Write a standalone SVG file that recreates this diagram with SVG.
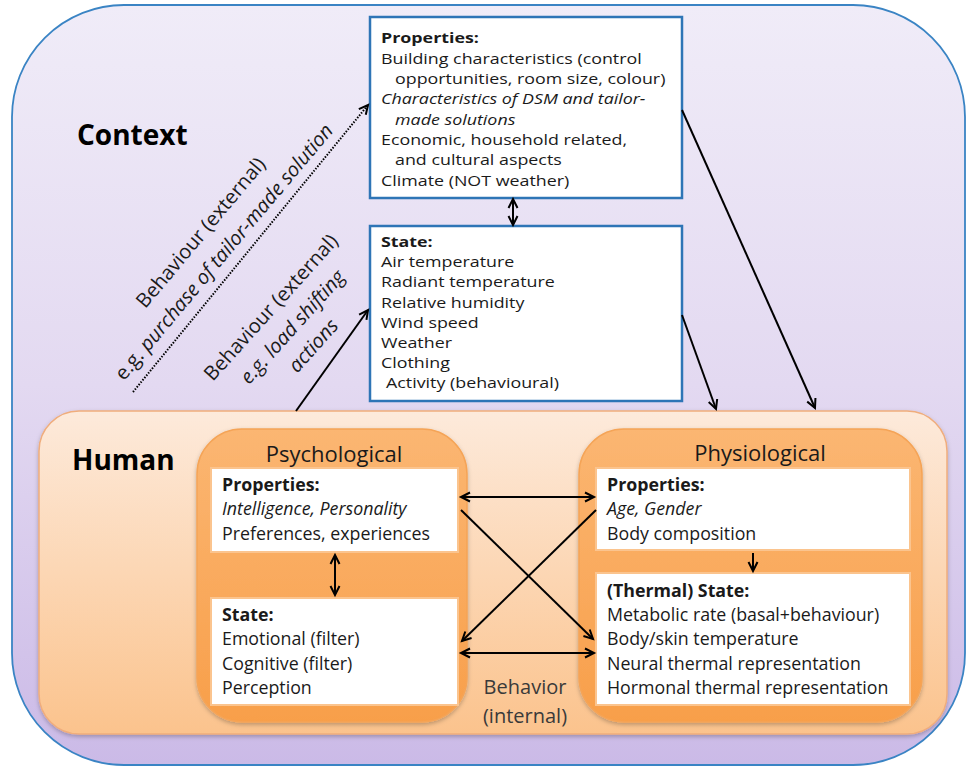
<svg xmlns="http://www.w3.org/2000/svg" width="967" height="769" viewBox="0 0 967 769">
<defs>
<linearGradient id="gOuter" x1="0" y1="0" x2="0" y2="1">
<stop offset="0" stop-color="#f0ecf8"/>
<stop offset="0.5" stop-color="#e3d9f1"/>
<stop offset="1" stop-color="#cbbae7"/>
</linearGradient>
<linearGradient id="gHuman" x1="0" y1="0" x2="0" y2="1">
<stop offset="0" stop-color="#fdeadb"/>
<stop offset="1" stop-color="#fbc38d"/>
</linearGradient>
<linearGradient id="gPanel" x1="0" y1="0" x2="0" y2="1">
<stop offset="0" stop-color="#fbb672"/>
<stop offset="1" stop-color="#f89f4a"/>
</linearGradient>
<filter id="sh" x="-5%" y="-5%" width="110%" height="115%">
<feDropShadow dx="0" dy="2" stdDeviation="2" flood-color="#000" flood-opacity="0.25"/>
</filter>
<marker id="ah" viewBox="-1 -1 12 12" refX="10" refY="5" markerWidth="12" markerHeight="12" markerUnits="userSpaceOnUse" orient="auto-start-reverse" overflow="visible">
<path d="M1,0.5 L10,5 L1,9.5" fill="none" stroke="#000" stroke-width="2"/>
</marker>
</defs>
<style>
text{font-family:"Open Sans","DejaVu Sans",sans-serif;fill:#1a1a1a;}
.ctx{font-size:15px;}
.hum{font-size:17.8px;}
.b{font-weight:bold;}
.i{font-style:italic;}
.big{font-size:28px;font-weight:bold;fill:#000;}
.panelT{font-size:22px;text-anchor:middle;}
.rot{font-size:20px;text-anchor:middle;}
.blue{fill:#fff;stroke:#2e75b6;stroke-width:2.5;}
.wbox{fill:#fff;stroke:#fbc48e;stroke-width:2;}
.ar{stroke:#000;stroke-width:2;fill:none;}
.int{font-size:20px;text-anchor:middle;fill:#3a3a3a;}
</style>

<g id="context">
<rect x="12" y="5" width="953" height="760" rx="112" fill="url(#gOuter)" stroke="#3a84c4" stroke-width="1.8"/>
<text class="big" x="77" y="145">Context</text>
</g>

<g id="human">
<rect x="39" y="411" width="908" height="323" rx="40" fill="url(#gHuman)" stroke="#f0ad7c" stroke-width="1.5" filter="url(#sh)"/>
<text class="big" x="72" y="470">Human</text>
</g>

<g id="ctx-properties">
<rect class="blue" x="370" y="17" width="312" height="181"/>
<g transform="matrix(1.19 0 0 1 -72.39 0)">
<text class="ctx b" x="381" y="43">Properties:</text>
<text class="ctx" x="381" y="64">Building characteristics (control</text>
<text class="ctx" x="392.8" y="84">opportunities, room size, colour)</text>
<text class="ctx i" x="381" y="104.5">Characteristics of DSM and tailor-</text>
<text class="ctx i" x="392.8" y="125">made solutions</text>
<text class="ctx" x="381" y="145">Economic, household related,</text>
<text class="ctx" x="392.8" y="165.5">and cultural aspects</text>
<text class="ctx" x="381" y="186">Climate (NOT weather)</text>
</g>
</g>

<g id="ctx-state">
<rect class="blue" x="370" y="226" width="312" height="175"/>
<g transform="matrix(1.19 0 0 1 -72.39 0)">
<text class="ctx b" x="381" y="247.5">State:</text>
<text class="ctx" x="381" y="267">Air temperature</text>
<text class="ctx" x="381" y="287">Radiant temperature</text>
<text class="ctx" x="381" y="308">Relative humidity</text>
<text class="ctx" x="381" y="328">Wind speed</text>
<text class="ctx" x="381" y="348">Weather</text>
<text class="ctx" x="381" y="368.5">Clothing</text>
<text class="ctx" x="385.2" y="388.5">Activity (behavioural)</text>
</g>
</g>

<g id="psychological">
<rect x="197" y="429" width="270" height="293" rx="45" fill="url(#gPanel)" stroke="#f5a457" stroke-width="1.5" filter="url(#sh)"/>
<text class="panelT" x="334" y="462">Psychological</text>
</g>

<g id="psych-properties">
<rect class="wbox" x="211" y="468" width="247" height="84"/>
<text class="hum b" x="222" y="491">Properties:</text>
<text class="hum i" x="222" y="515">Intelligence, Personality</text>
<text class="hum" x="222" y="540">Preferences, experiences</text>
</g>

<g id="psych-state">
<rect class="wbox" x="211" y="598" width="247" height="107"/>
<text class="hum b" x="222" y="621">State:</text>
<text class="hum" x="222" y="645">Emotional (filter)</text>
<text class="hum" x="222" y="670">Cognitive (filter)</text>
<text class="hum" x="222" y="694">Perception</text>
</g>

<g id="physiological">
<rect x="579" y="429" width="343" height="293" rx="45" fill="url(#gPanel)" stroke="#f5a457" stroke-width="1.5" filter="url(#sh)"/>
<text class="panelT" x="760" y="461">Physiological</text>
</g>

<g id="phys-properties">
<rect class="wbox" x="596" y="468" width="314" height="82"/>
<text class="hum b" x="607" y="491">Properties:</text>
<text class="hum i" x="607" y="515">Age, Gender</text>
<text class="hum" x="607" y="540">Body composition</text>
</g>

<g id="phys-state">
<rect class="wbox" x="596" y="573" width="314" height="132"/>
<text class="hum b" x="607" y="597">(Thermal) State:</text>
<text class="hum" x="607" y="621">Metabolic rate (basal+behaviour)</text>
<text class="hum" x="607" y="645">Body/skin temperature</text>
<text class="hum" x="607" y="670">Neural thermal representation</text>
<text class="hum" x="607" y="694">Hormonal thermal representation</text>
</g>

<g id="connectors">
<line class="ar" x1="513" y1="199" x2="513" y2="225" marker-start="url(#ah)" marker-end="url(#ah)"/>
<line class="ar" x1="133" y1="392" x2="368" y2="105" stroke-width="2.5" stroke-dasharray="1.5 1.5" marker-end="url(#ah)"/>
<line class="ar" x1="296" y1="411" x2="368" y2="310" marker-end="url(#ah)"/>
<line class="ar" x1="682" y1="315" x2="716" y2="409" marker-end="url(#ah)"/>
<line class="ar" x1="682" y1="110" x2="815" y2="408" marker-end="url(#ah)"/>
<line class="ar" x1="461" y1="497" x2="594" y2="497" marker-start="url(#ah)" marker-end="url(#ah)"/>
<line class="ar" x1="461" y1="510" x2="593" y2="639" marker-end="url(#ah)"/>
<line class="ar" x1="596" y1="510" x2="462" y2="641" marker-end="url(#ah)"/>
<line class="ar" x1="461" y1="653" x2="594" y2="653" marker-start="url(#ah)" marker-end="url(#ah)"/>
<line class="ar" x1="335" y1="555" x2="335" y2="595" marker-start="url(#ah)" marker-end="url(#ah)"/>
<line class="ar" x1="753" y1="553" x2="753" y2="571" marker-end="url(#ah)"/>
</g>

<g id="label-purchase" transform="translate(206,237) rotate(-50)">
<text class="rot" x="0" y="0">Behaviour (external)</text>
<text class="rot" x="0" y="30">e.g. <tspan class="i">purchase of tailor-made solution</tspan></text>
</g>

<g id="label-load" transform="translate(276,312) rotate(-48)">
<text class="rot" x="0" y="0">Behaviour (external)</text>
<text class="rot i" x="0" y="29">e.g. load shifting</text>
<text class="rot i" x="0" y="57">actions</text>
</g>

<g id="label-internal">
<text class="int" x="525" y="694">Behavior</text>
<text class="int" x="525" y="723">(internal)</text>
</g>
</svg>
